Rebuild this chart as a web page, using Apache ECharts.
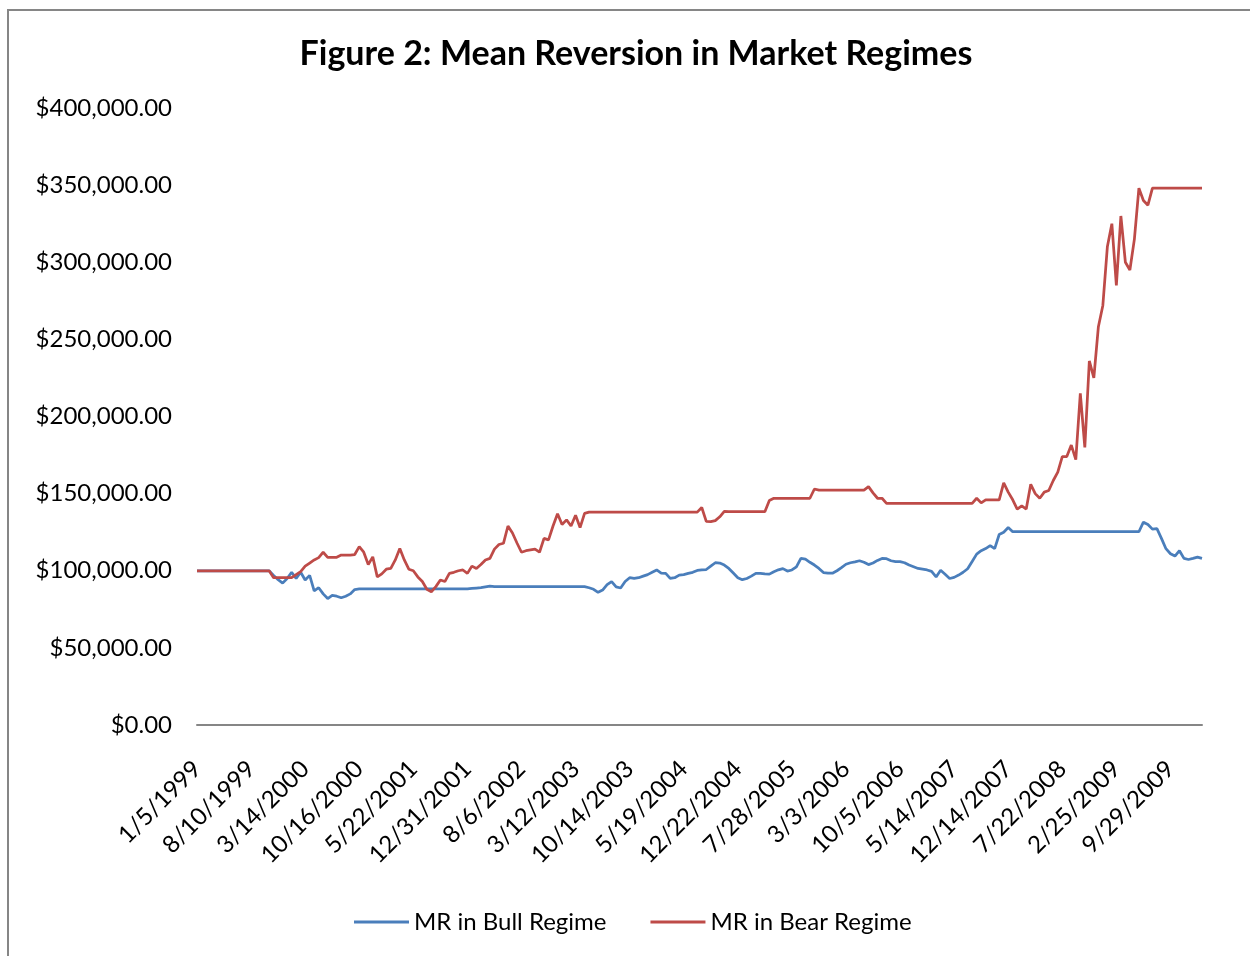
<!DOCTYPE html>
<html>
<head>
<meta charset="utf-8">
<title>Figure 2: Mean Reversion in Market Regimes</title>
<script src="https://cdn.jsdelivr.net/npm/echarts@6/dist/echarts.min.js"></script>
<style>
  html, body { margin: 0; padding: 0; background: #fff; }
  #chart { width: 1250px; height: 956px; }
</style>
</head>
<body>
<div id="chart"></div>
<script>
// x axis labels (one every 12 samples)
const tickLabels = [
  '1/5/1999', '8/10/1999', '3/14/2000', '10/16/2000', '5/22/2001', '12/31/2001',
  '8/6/2002', '3/12/2003', '10/14/2003', '5/19/2004', '12/22/2004', '7/28/2005',
  '3/3/2006', '10/5/2006', '5/14/2007', '12/14/2007', '7/22/2008', '2/25/2009', '9/29/2009'
];
const samplesPerTick = 12;

// equity values, thousands of dollars
const bullValues = [
  100, 100, 100, 100, 100, 100, 100, 100, 100, 100, 100, 100,
  100, 100, 100, 100, 100, 97, 94.2, 92, 95, 99, 95, 99,
  94, 97, 87, 89, 85, 82, 84, 83.5, 82.5, 83.5, 85, 87.8,
  88.2, 88.2, 88.2, 88.2, 88.2, 88.2, 88.2, 88.2, 88.2, 88.2, 88.2, 88.2,
  88.2, 88.2, 88.2, 88.2, 88.2, 88.2, 88.2, 88.2, 88.2, 88.2, 88.2, 88.2,
  88.2, 88.5, 88.8, 89, 89.5, 90, 89.7, 89.7, 89.7, 89.7, 89.7, 89.7,
  89.7, 89.7, 89.7, 89.7, 89.7, 89.7, 89.7, 89.7, 89.7, 89.7, 89.7, 89.7,
  89.7, 89.7, 89.7, 89, 88, 86, 87.5, 91, 93, 89.5, 88.8, 93,
  95.5, 95, 95.5, 96.5, 97.5, 99, 100.5, 98.5, 98.3, 95, 95.5, 97.2,
  97.5, 98.3, 99, 100.2, 100.6, 100.8, 103, 105.2, 105, 103.7, 101.5, 98.5,
  95.5, 94.2, 95, 96.5, 98.3, 98.3, 98, 97.8, 99.4, 100.6, 101.4, 99.8,
  100.5, 102.5, 108, 107.5, 105.5, 103.7, 101.5, 98.8, 98.5, 98.4, 100, 102,
  104.2, 105.2, 105.8, 106.5, 105.5, 104, 105, 106.7, 108, 107.8, 106.5, 105.9,
  105.9, 105.2, 103.7, 102.6, 101.5, 101, 100.5, 99.6, 96, 100.3, 97.7, 95,
  95.7, 97.2, 99, 101.3, 106, 110.8, 113, 114.4, 116.3, 114.3, 123.5, 125,
  128, 125.3, 125.3, 125.3, 125.3, 125.3, 125.3, 125.3, 125.3, 125.3, 125.3, 125.3,
  125.3, 125.3, 125.3, 125.3, 125.3, 125.3, 125.3, 125.3, 125.3, 125.3, 125.3, 125.3,
  125.3, 125.3, 125.3, 125.3, 125.3, 125.3, 131.5, 130, 127, 127.3, 121, 114.3,
  111, 109.5, 113, 108, 107.3, 108, 108.8, 108
];

const bearValues = [
  100, 100, 100, 100, 100, 100, 100, 100, 100, 100, 100, 100,
  100, 100, 100, 100, 100, 95.5, 95.5, 95.5, 95.5, 95.5, 97.5, 99.5,
  103, 105, 107, 108.5, 112, 108.7, 108.7, 108.7, 110.2, 110.2, 110.2, 110.5,
  115.6, 112, 104, 109, 96, 98, 101, 101.6, 107, 114.5, 107, 101,
  100, 96, 93, 88, 86.4, 89.7, 94, 93, 98.3, 99, 100, 100.5,
  98.3, 103, 101.5, 104, 107, 108, 114, 117, 117.8, 129, 124.5, 118,
  112, 113, 113.5, 114, 112, 121, 120, 129, 137, 130, 133, 129,
  136, 128, 137.2, 138, 138, 138, 138, 138, 138, 138, 138, 138,
  138, 138, 138, 138, 138, 138, 138, 138, 138, 138, 138, 138,
  138, 138, 138, 138, 141, 132, 131.8, 132.5, 135, 138.5, 138.3, 138.3,
  138.3, 138.3, 138.3, 138.3, 138.3, 138.3, 138.3, 145.5, 147, 147, 147, 147,
  147, 147, 147, 147, 147, 153, 152.3, 152.3, 152.3, 152.3, 152.3, 152.3,
  152.3, 152.3, 152.3, 152.3, 152.3, 154.5, 150.5, 147, 147, 143.7, 143.7, 143.7,
  143.7, 143.7, 143.7, 143.7, 143.7, 143.7, 143.7, 143.7, 143.7, 143.7, 143.7, 143.7,
  143.7, 143.7, 143.7, 143.7, 143.7, 147, 144, 145.9, 145.9, 145.9, 145.9, 157,
  151, 146, 140, 142, 140, 156, 150, 147, 151, 152, 158.5, 164,
  174, 174, 181.5, 172, 215, 180, 236, 225, 258, 272, 310, 325,
  285, 330, 300, 295, 315, 348, 340, 337, 348, 348, 348, 348,
  348, 348, 348, 348, 348, 348, 348, 348
];

const seriesNames = ['MR in Bull Regime', 'MR in Bear Regime'];
const seriesColors = ['#4a7ebb', '#be4b48'];

var chartDom = document.getElementById('chart');
var myChart = echarts.init(chartDom, null, { renderer: 'canvas' });
var font = 'Lato, "Open Sans", sans-serif';

function toPoints(values) {
  return values.map(function (v, i) { return [i / samplesPerTick, v]; });
}

function money(v) {
  return '$' + (v * 1000).toLocaleString('en-US', { minimumFractionDigits: 2, maximumFractionDigits: 2 });
}

var option = {
  animation: false,
  backgroundColor: '#fff',
  title: {
    text: 'Figure 2: Mean Reversion in Market Regimes',
    left: 631,
    top: 32,
    textAlign: 'center',
    textStyle: { fontFamily: font, fontWeight: 'bold', fontSize: 34, color: '#000' }
  },
  legend: {
    left: 349,
    top: 905,
    icon: 'rect',
    itemWidth: 55,
    itemHeight: 3,
    itemGap: 44,
    textStyle: { fontFamily: font, fontSize: 24, color: '#000' },
    data: seriesNames
  },
  grid: { left: 197, right: 48, top: 108, bottom: 231 },
  xAxis: {
    type: 'value',
    min: 0,
    max: 'dataMax',
    interval: 1,
    axisLine: { show: true, lineStyle: { color: '#868686', width: 2 } },
    axisTick: { show: false },
    splitLine: { show: false },
    axisLabel: {
      rotate: 45,
      margin: 40,
      fontFamily: font,
      fontSize: 24,
      color: '#000',
      showMaxLabel: false,
      formatter: function (v) {
        return Number.isInteger(v) && tickLabels[v] ? tickLabels[v] : '';
      }
    }
  },
  yAxis: {
    type: 'value',
    min: 0,
    max: 400,
    interval: 50,
    axisLine: { show: false },
    axisTick: { show: false },
    splitLine: { show: false },
    axisLabel: {
      margin: 25,
      fontFamily: font,
      fontSize: 24,
      color: '#000',
      formatter: money
    }
  },
  graphic: [
    {
      type: 'rect',
      shape: { x: 8, y: 10, width: 1400, height: 1100 },
      style: { fill: 'none', stroke: '#868686', lineWidth: 2 },
      silent: true
    }
  ],
  series: [
    {
      name: seriesNames[0],
      type: 'line',
      symbol: 'none',
      color: seriesColors[0],
      lineStyle: { width: 2.75, color: seriesColors[0] },
      data: toPoints(bullValues)
    },
    {
      name: seriesNames[1],
      type: 'line',
      symbol: 'none',
      color: seriesColors[1],
      lineStyle: { width: 2.75, color: seriesColors[1] },
      data: toPoints(bearValues)
    }
  ]
};

option && myChart.setOption(option);
</script>
</body>
</html>
